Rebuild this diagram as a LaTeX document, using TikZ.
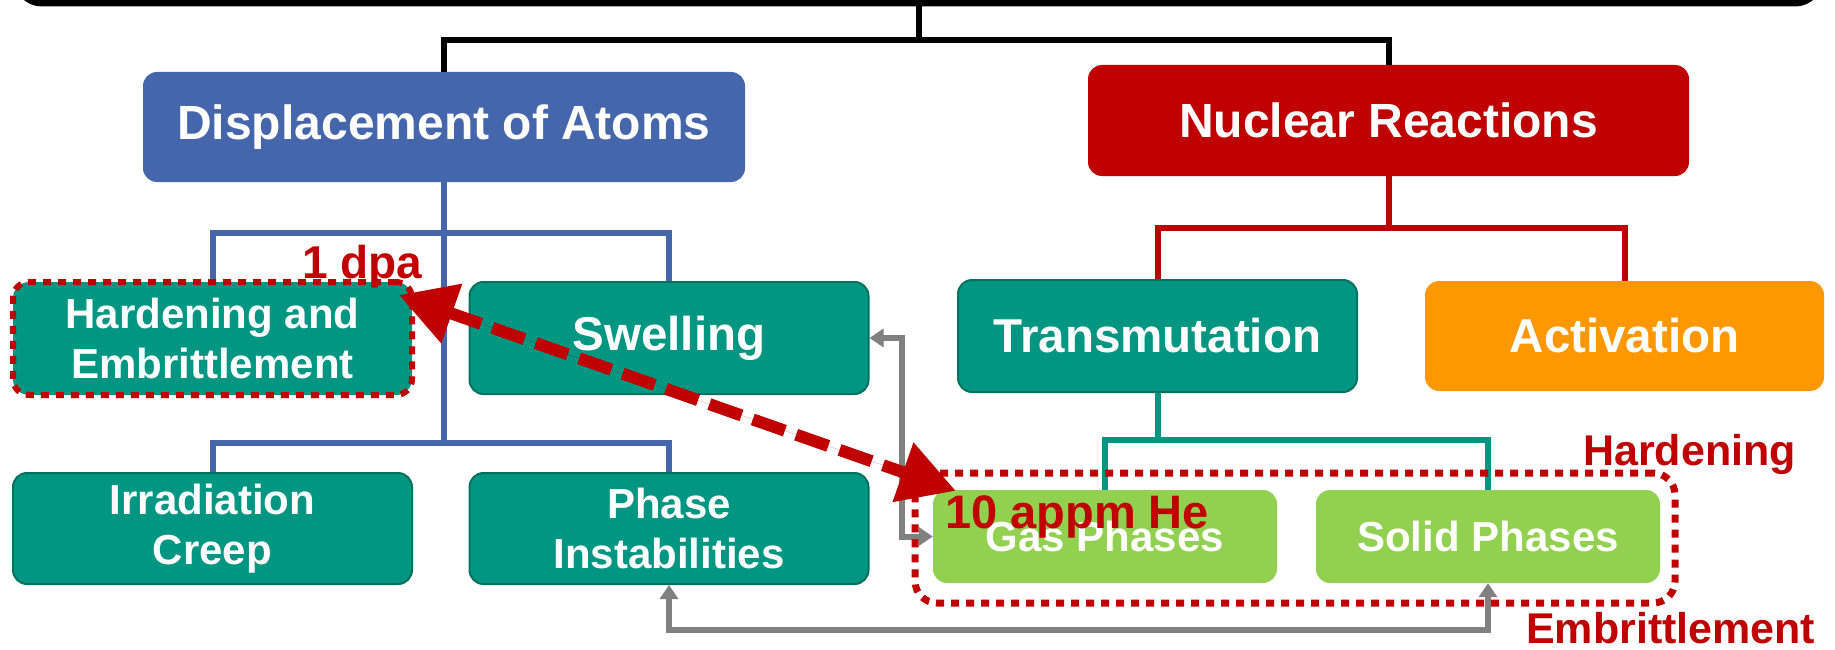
\documentclass[tikz,border=0pt]{standalone}
\usepackage{fontspec}
\setmainfont{Liberation Sans}
\usetikzlibrary{arrows.meta,calc}
\definecolor{cblue}{HTML}{4666AC}
\definecolor{cred}{HTML}{C00000}
\definecolor{cteal}{HTML}{009681}
\definecolor{ctealdark}{HTML}{00705F}
\definecolor{corange}{HTML}{FF9700}
\definecolor{cgreen}{HTML}{92D050}
\definecolor{cgray}{HTML}{808080}
\begin{document}
\begin{tikzpicture}[x=1pt,y=-1pt,
  box/.style={rounded corners=14pt, text=white, align=center, inner sep=0pt},
  bigfont/.style={font=\fontsize{48}{56}\selectfont\bfseries},
  midfont/.style={font=\fontsize{47.5}{55}\selectfont\bfseries},
  smallfont/.style={font=\fontsize{42}{50}\selectfont\bfseries},
  tealbox/.style={box, fill=cteal, draw=ctealdark, line width=2pt},
  wide/.style={minimum width=399pt, minimum height=111pt},
  phasebox/.style={box, fill=cgreen, minimum width=344pt, minimum height=93pt, smallfont},
  blkline/.style={draw=black, line width=6pt},
  blueline/.style={draw=cblue, line width=6pt},
  redline/.style={draw=cred, line width=6pt},
  tealline/.style={draw=cteal, line width=6pt},
  garrow/.style={draw=cgray, line width=6pt, {Triangle[length=14pt,width=18pt]}-{Triangle[length=14pt,width=18pt]}},
  reddots/.style={draw=cred, dash pattern=on 8pt off 7pt},
  redlabel/.style={text=cred, inner sep=0pt, anchor=base west}
]
\useasboundingbox (0,0) rectangle (1835,650);
\clip (0,0) rectangle (1835,650);

% top box (cut off)
\node[draw=black, line width=7pt, rounded corners=25pt, minimum width=1803pt, minimum height=70pt, inner sep=0pt] (top) at (918.5,-32) {};

% boxes
\node[box, fill=cblue, minimum width=602pt, minimum height=110pt, bigfont] (disp) at (444,127) {Displacement of Atoms};
\node[box, fill=cred, minimum width=601pt, minimum height=111pt, bigfont] (nuc) at (1388.5,120.5) {Nuclear Reactions};

\draw[blkline] (top.south) -- (top.south |- 0,40);
\draw[blkline] (disp.north) -- (disp.north |- 0,40) -| (nuc.north);

\node[box, fill=cteal, reddots, line width=6pt, rounded corners=16pt, wide, minimum height=113pt, smallfont] (hard) at (212.5,338.5) {Hardening and\\Embrittlement};
\node[tealbox, wide, minimum height=112pt, midfont] (swell) at (669,338) {Swelling};
\node[tealbox, wide, smallfont] (creep) at (212.5,528.5) {Irradiation\\Creep};
\node[tealbox, wide, smallfont] (phase) at (669,528.5) {Phase\\Instabilities};
\node[tealbox, wide, minimum height=112pt, midfont] (trans) at (1157.5,336) {Transmutation};
\node[box, fill=corange, wide, minimum height=110pt, midfont] (act) at (1624.5,336) {Activation};
\node[phasebox] (gas) at (1105,536.5) {Gas Phases};
\node[phasebox] (solid) at (1488,536.5) {Solid Phases};

\draw[blueline] (disp.south) -- (disp.south |- 0,443);
\draw[blueline] (hard.north) -- (hard.north |- 0,233) -| (swell.north);
\draw[blueline] (creep.north) -- (creep.north |- 0,443) -| (phase.north);

\draw[redline] (nuc.south) -- (nuc.south |- 0,228);
\draw[redline] (trans.north) -- (trans.north |- 0,228) -| (act.north);

\draw[tealline] (trans.south) -- (trans.south |- 0,440);
\draw[tealline] (gas.north) -- (gas.north |- 0,440) -| (solid.north);

% gray arrows
\draw[garrow] (phase.south) -- (phase.south |- 0,630) -| (solid.south);
\draw[garrow] (swell.east) -- ++(32,0) |- (gas.west);

% dotted frame round the phases
\node[reddots, line width=7pt, rounded corners=22pt, minimum width=760pt, minimum height=130pt, inner sep=0pt] (frame) at (1295,538) {};

% labels
\node[redlabel, font=\fontsize{46}{52}\selectfont\bfseries] (dpa) at (302,278) {1 dpa};
\node[redlabel, font=\fontsize{47}{52}\selectfont\bfseries] (appm) at (945,528) {10 appm He};
\node[redlabel, font=\fontsize{43}{50}\selectfont\bfseries] (lhard) at (1583,465) {Hardening};
\node[redlabel, font=\fontsize{43}{50}\selectfont\bfseries] (lemb) at (1526,643) {Embrittlement};

% big red dashed double arrow
\draw[draw=cred, fill=cred, line width=12pt, dash pattern=on 34pt off 12pt,
  {Triangle[length=56pt,width=60pt]}-{Triangle[length=56pt,width=60pt]}]
  ($(hard.north east)+(-16,16)$) -- ($(gas.north west)+(23,1)$);
\end{tikzpicture}
\end{document}
